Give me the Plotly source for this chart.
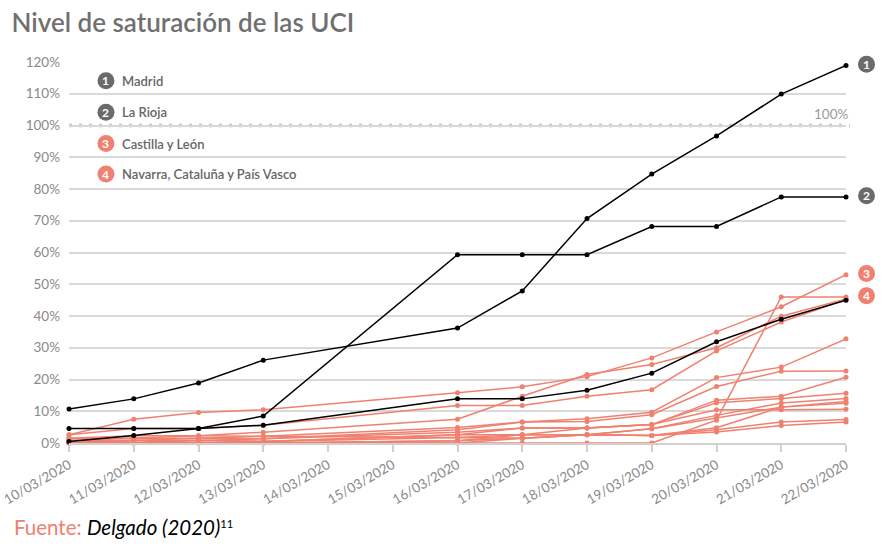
import plotly.graph_objects as go

# Nivel de saturación de las UCI (%), 10/03/2020 - 22/03/2020
# (sin datos el 14/03 y el 15/03)
fechas = ['10/03/2020', '11/03/2020', '12/03/2020', '13/03/2020', '14/03/2020',
          '15/03/2020', '16/03/2020', '17/03/2020', '18/03/2020', '19/03/2020',
          '20/03/2020', '21/03/2020', '22/03/2020']

# series en negro
madrid = [10.7, 13.9, 18.9, 26.1, None, None, 36.2, 47.9, 70.7, 84.7, 96.7, 109.9, 118.9]
la_rioja = [0.5, 2.4, 4.6, 8.5, None, None, 59.3, 59.3, 59.3, 68.2, 68.2, 77.5, 77.5]
negra_3 = [4.6, 4.6, 4.6, 5.6, None, None, 13.9, 13.9, 16.6, 22.0, 31.9, 39.0, 45.0]

# series en rojo
castilla_leon = [2.6, 7.5, 9.6, 10.5, None, None, 15.8, 17.7, 20.9, 26.8, 35.0, 42.9, 53.0]
navarra = [0.8, 1.5, 2.3, 3.4, None, None, 7.5, 14.7, 21.6, 24.7, 30.0, 39.9, 45.4]
cataluna = [2.6, 4.6, 4.6, 5.6, None, None, 11.8, 11.8, 14.7, 16.8, 29.0, 38.1, 45.2]
pais_vasco = [0, 0, 0, 0, None, None, 0, 0, 0, 0, 7.2, 46.0, 46.0]
otra_01 = [1.5, 2.3, 2.3, 2.1, None, None, 4.9, 6.6, 7.6, 9.7, 20.6, 23.9, 32.8]
otra_02 = [0.8, 0.8, 1.5, 1.3, None, None, 4.2, 6.6, 6.8, 8.9, 17.8, 22.6, 22.7]
otra_03 = [0, 0.8, 0.8, 1.3, None, None, 3.4, 4.7, 4.7, 5.8, 13.5, 14.7, 20.7]
otra_04 = [0.8, 0.8, 0.8, 0.5, None, None, 2.6, 4.7, 4.7, 5.8, 12.7, 14.0, 15.7]
otra_05 = [0, 0, 0, 0.5, None, None, 2.6, 2.6, 4.7, 5.8, 10.5, 10.5, 10.6]
otra_06 = [1.5, 1.5, 1.5, 2.1, None, None, 1.7, 2.6, 2.6, 4.5, 8.7, 12.6, 14.0]
otra_07 = [0, 0, 0.8, 0.5, None, None, 1.7, 1.5, 2.6, 4.5, 7.9, 11.3, 13.1]
otra_08 = [0.8, 0, 0, 0, None, None, 0.7, 1.5, 2.6, 2.4, 4.8, 11.3, 12.5]
otra_09 = [0, 0.8, 0, 0, None, None, 0.7, 2.6, 2.6, 2.4, 4.2, 6.6, 7.4]
otra_10 = [0, 0, 0, 0, None, None, 0, 1.5, 2.6, 2.4, 3.5, 5.5, 6.6]

etiquetas = ['Madrid', 'La Rioja', 'Castilla y León', 'Navarra, Cataluña y País Vasco']

ROJO = '#F0806F'
GRIS = '#6B6B6B'
FUENTE = 'Lato'
Y_MAX = 120

rojas = [otra_10, otra_09, otra_08, otra_07, otra_06, otra_05, otra_04, otra_03,
         otra_02, otra_01, pais_vasco, cataluna, navarra, castilla_leon]
negras = [negra_3, la_rioja, madrid]

fig = go.Figure()

for serie in rojas:
    fig.add_trace(go.Scatter(x=fechas, y=serie, mode='lines+markers',
                             line=dict(color=ROJO, width=1.5),
                             marker=dict(size=5, color=ROJO),
                             connectgaps=True, cliponaxis=False,
                             showlegend=False, hoverinfo='skip'))

for serie in negras:
    fig.add_trace(go.Scatter(x=fechas, y=serie, mode='lines+markers',
                             line=dict(color='black', width=1.5),
                             marker=dict(size=5, color='black'),
                             connectgaps=True, cliponaxis=False,
                             showlegend=False, hoverinfo='skip'))

shapes = []
annotations = []

# linea punteada del 100%
shapes.append(dict(type='line', xref='paper', x0=0, x1=1.005, yref='y', y0=100, y1=100,
                   line=dict(color='white', width=4), layer='between'))
shapes.append(dict(type='line', xref='paper', x0=0, x1=1.005, yref='y', y0=100, y1=100,
                   line=dict(color='#C4C4C4', width=3.5, dash='3px,7px'), layer='between'))
annotations.append(dict(text='100%', xref='paper', x=1.005, xanchor='right',
                        yref='y', y=100, yanchor='bottom', yshift=2, showarrow=False,
                        font=dict(family=FUENTE, size=13.5, color='#9A9A9A')))


def circulo(xpos, valor, num, color):
    # en coordenadas 'paper' para que la forma no se recorte en el borde del grafico
    ypos = valor / Y_MAX
    shapes.append(dict(type='circle', xref='paper', xsizemode='pixel', xanchor=xpos,
                       x0=-8.5, x1=8.5, yref='paper', ysizemode='pixel', yanchor=ypos,
                       y0=-8.5, y1=8.5, fillcolor=color, line=dict(width=0),
                       layer='above'))
    annotations.append(dict(text=str(num), xref='paper', x=xpos, yref='paper', y=ypos,
                            xanchor='center', yanchor='middle', showarrow=False,
                            font=dict(family=FUENTE, size=12, color='white', weight='bold')))


# leyenda (arriba a la izquierda)
colores = [GRIS, GRIS, ROJO, ROJO]
y_leyenda = [114.1, 104.2, 94.3, 84.7]
for i, (texto, col, yl) in enumerate(zip(etiquetas, colores, y_leyenda)):
    circulo(0.0476, yl, i + 1, col)
    annotations.append(dict(text=texto, xref='paper', x=0.066, xanchor='left',
                            yref='y', y=yl, yanchor='middle', showarrow=False,
                            font=dict(family=FUENTE, size=13, color='#666666', weight=600)))

# etiquetas al final de las lineas
finales = [madrid[-1], la_rioja[-1], castilla_leon[-1], pais_vasco[-1]]
for i, (yf, col) in enumerate(zip(finales, colores)):
    circulo(1.0264, yf + 0.4, i + 1, col)

annotations.append(dict(
    text="<span style='color:#F0806F'>Fuente:</span> <i>Delgado (2020)</i>"
         "<span style='font-size:16px'><sup>11</sup></span>",
    xref='paper', x=-0.0734, xanchor='left', yref='paper', y=-0.2205, yanchor='middle',
    showarrow=False, font=dict(family=FUENTE, size=20.5, color='black')))

fig.update_layout(
    title=dict(text='Nivel de saturación de las UCI', x=0.013, xanchor='left',
               xref='container', y=0.958, yref='container', yanchor='middle',
               font=dict(family=FUENTE, size=26, color='#707070', weight=600)),
    width=890, height=547,
    margin=dict(l=69, r=44, t=62, b=104),
    paper_bgcolor='white', plot_bgcolor='white',
    shapes=shapes, annotations=annotations,
    xaxis=dict(type='category', range=[0, 12], tickangle=-30, showgrid=False,
               automargin=False,
               showline=True, linecolor='#D0D0D0', linewidth=2,
               ticks='outside', ticklen=7, tickcolor='#D0D0D0', tickwidth=1.5,
               tickfont=dict(family=FUENTE, size=13.5, color='#8A8A8A')),
    yaxis=dict(range=[0, Y_MAX], dtick=10, ticksuffix='%', showgrid=True,
               automargin=False,
               gridcolor='#D9D9D9', gridwidth=1.5, zeroline=False,
               ticks='', ticklabelstandoff=8,
               tickfont=dict(family=FUENTE, size=13.5, color='#8A8A8A')),
)

# quitar el margen por defecto del <body> para que la figura empiece en (0, 0)
fig.write_html('out.html', config={'displayModeBar': False},
               post_script="document.body.style.margin='0px';")
